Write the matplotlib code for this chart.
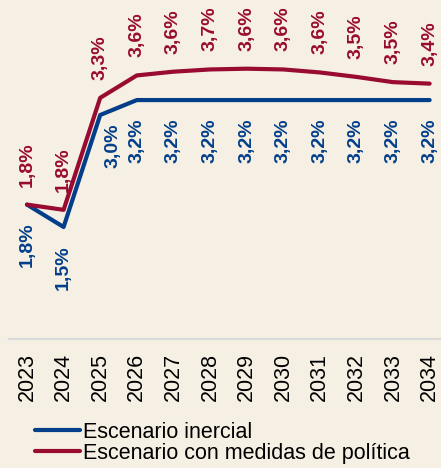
import matplotlib.pyplot as plt

plt.rcParams['font.family'] = ['Liberation Sans', 'DejaVu Sans']

years = [2023, 2024, 2025, 2026, 2027, 2028, 2029, 2030, 2031, 2032, 2033, 2034]
inercial = [1.80, 1.50, 3.00, 3.20, 3.20, 3.20, 3.20, 3.20, 3.20, 3.20, 3.20, 3.20]
politica = [1.80, 1.73, 3.23, 3.53, 3.58, 3.61, 3.62, 3.61, 3.57, 3.51, 3.44, 3.42]
lab_inercial = ['1,8%', '1,5%', '3,0%', '3,2%', '3,2%', '3,2%', '3,2%', '3,2%', '3,2%', '3,2%', '3,2%', '3,2%']
lab_politica = ['1,8%', '1,8%', '3,3%', '3,6%', '3,6%', '3,7%', '3,6%', '3,6%', '3,6%', '3,5%', '3,5%', '3,4%']

bg = '#f6f0e4'
blue = '#023e8a'
red = '#990b30'

fig = plt.figure(figsize=(4.41, 4.68), dpi=100, facecolor=bg)
ax = fig.add_axes([0.0197, 0.2756, 0.996, 0.7244], facecolor=bg)

ax.plot(years, inercial, color=blue, lw=3, solid_capstyle='round', label='Escenario inercial')
ax.plot(years, politica, color=red, lw=3, solid_capstyle='round', label='Escenario con medidas de política')

for i, (x, y) in enumerate(zip(years, politica)):
    ax.annotate(lab_politica[i], (x, y), xytext=(0, 13), textcoords='offset points',
                rotation=90, ha='center', va='bottom', color=red, fontsize=14,
                fontweight='bold', annotation_clip=False)

for i, (x, y) in enumerate(zip(years, inercial)):
    dx, dy = (0, -13)
    if i == 2:
        dx, dy = (9, -6)
    ax.annotate(lab_inercial[i], (x, y), xytext=(dx, dy), textcoords='offset points',
                rotation=90, ha='center', va='top', color=blue, fontsize=14,
                fontweight='bold', annotation_clip=False)

ax.set_xlim(2022.5, 2034.5)
ax.set_ylim(0, 4.54)
ax.set_xticks(years)
ax.set_xticklabels([str(y) for y in years], rotation=90, fontsize=15.5, va='top')
ax.tick_params(axis='x', length=0, pad=10)
ax.set_yticks([])
for s in ['top', 'right', 'left']:
    ax.spines[s].set_visible(False)
ax.spines['bottom'].set_color('#d9d9d9')
ax.spines['bottom'].set_linewidth(1.5)

leg = fig.legend(loc='upper left', bbox_to_anchor=(35 / 441, 1 - 422 / 468),
                 frameon=False, fontsize=15.5, handlelength=2.1, handletextpad=0.15,
                 labelspacing=0.0, borderpad=0, borderaxespad=0)

fig.savefig('out.png', dpi=100, facecolor=bg)
